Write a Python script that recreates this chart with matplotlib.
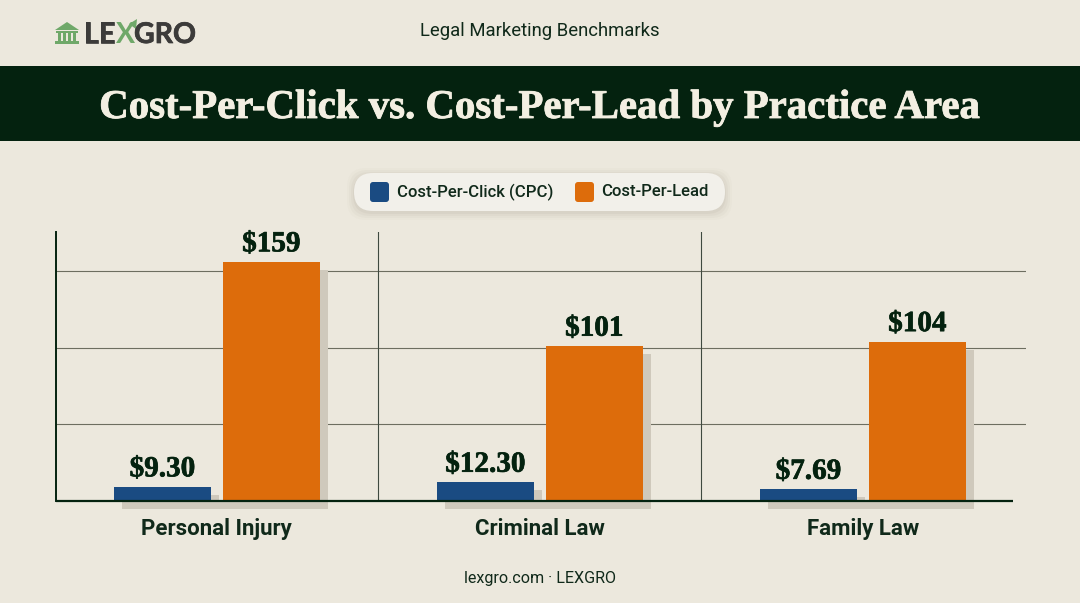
import matplotlib
matplotlib.use("Agg")
import matplotlib.pyplot as plt
import matplotlib.patheffects as pe
from matplotlib.patches import FancyBboxPatch, Rectangle, Polygon
import numpy as np

categories = ["Personal Injury", "Criminal Law", "Family Law"]
cpc_values = [9.30, 12.30, 7.69]
# the first orange bar is drawn shorter than its $159 label says, heights are as drawn
cpl_values = [156, 101, 104]
cpc_labels = ["$9.30", "$12.30", "$7.69"]
cpl_labels = ["$159", "$101", "$104"]
grid_values = [50, 100, 150]

BG = "#ece8dd"
DARK = "#04220f"
INK = "#10291a"
BLUE = "#1a4b82"
ORANGE = "#dd6c0b"
SHADOW = "#cfc9bc"
GREEN = "#6fa869"
SERIF = "Liberation Serif"
SANS = "Roboto"

fig = plt.figure(figsize=(10.8, 6.03), dpi=100, facecolor=BG)

# page furniture, in pixel coordinates
deco = fig.add_axes([0, 0, 1, 1], zorder=0)
deco.set_xlim(0, 1080)
deco.set_ylim(603, 0)
deco.axis("off")

deco.add_patch(Rectangle((0, 66), 1080, 75, fc=DARK, ec="none"))
title = deco.text(540, 104, "Cost-Per-Click vs. Cost-Per-Lead by Practice Area", family=SERIF,
                  weight="bold", fontsize=29.4, color="#f3efe2", ha="center", va="center_baseline")
title.set_path_effects([pe.withStroke(linewidth=0.6, foreground="#f3efe2")])
deco.text(540, 31, "Legal Marketing Benchmarks", family=SANS, fontsize=13.3, color=INK,
          ha="center", va="center")
deco.text(540, 578, "lexgro.com · LEXGRO", family=SANS, fontsize=11.6, color=INK,
          ha="center", va="center")

# logo
deco.add_patch(Polygon([(55, 30), (67, 22), (79, 30)], fc=GREEN, ec="none"))
deco.add_patch(Rectangle((56, 31), 22, 2, fc=GREEN, ec="none"))
deco.add_patch(Rectangle((55, 41), 24, 3, fc=GREEN, ec="none"))
for cx in [58, 63, 68, 73]:
    deco.add_patch(Rectangle((cx, 33), 3, 8, fc=GREEN, ec="none"))
logo_stroke = [pe.withStroke(linewidth=0.5, foreground="#3c3b3a")]
deco.text(84, 43, "LE", family="Lato", weight="bold", fontsize=20.5, color="#3c3b3a",
          va="baseline", path_effects=logo_stroke)
deco.text(116, 43, "X", family="Lato", weight="bold", fontsize=20.5, color=GREEN, va="baseline")
deco.text(134, 43, "GRO", family="Lato", weight="bold", fontsize=20.5, color="#3c3b3a",
          va="baseline", path_effects=logo_stroke)
deco.add_patch(Polygon([(129, 24), (137, 19), (136, 29)], fc=GREEN, ec="none"))

# legend pill
for grow, a in [(7, 0.03), (5, 0.05), (3, 0.06), (1, 0.08)]:
    deco.add_patch(FancyBboxPatch((354 - grow, 175 - grow), 371 + 2 * grow, 38 + 2 * grow,
                                  boxstyle="round,pad=0,rounding_size=19",
                                  fc="#8f8a7c", ec="none", alpha=a))
deco.add_patch(FancyBboxPatch((354, 173), 371, 38, boxstyle="round,pad=0,rounding_size=19",
                              fc="#f2f0ea", ec="none"))
deco.add_patch(FancyBboxPatch((370, 182), 19, 20, boxstyle="round,pad=0,rounding_size=3",
                              fc=BLUE, ec="none"))
deco.add_patch(FancyBboxPatch((575, 182), 19, 20, boxstyle="round,pad=0,rounding_size=3",
                              fc=ORANGE, ec="none"))
deco.text(397, 192, "Cost-Per-Click (CPC)", family=SANS, weight="medium", fontsize=12,
          color=INK, va="center")
deco.text(601, 192, "Cost-Per-Lead", family=SANS, weight="medium", fontsize=12,
          color=INK, va="center")

# shadow strip under each group, below the baseline
for left in [122, 445, 768]:
    deco.add_patch(Rectangle((left, 501), 206, 8, fc=SHADOW, ec="none"))

# chart
ax = fig.add_axes([56 / 1080, 1 - 501 / 603, (1026 - 56) / 1080, (501 - 232) / 603], zorder=1)
ax.patch.set_alpha(0)
ax.set_xlim(-0.498, 2.505)
ax.set_ylim(0, 175.4)

x = np.arange(len(categories))
width = 0.3
offset = 0.1687
shadow = [pe.SimplePatchShadow(offset=(5.8, -5.8), shadow_rgbFace=SHADOW, alpha=1, rho=1), pe.Normal()]

for v in grid_values:
    ax.axhline(v, color="#6d6e60", lw=0.8, zorder=1)
for v in x[:-1] + 0.5:
    ax.axvline(v, color="#3f4a40", lw=0.8, zorder=1)

cpl_bars = ax.bar(x + offset, cpl_values, width, color=ORANGE, zorder=2)
cpc_bars = ax.bar(x - offset, cpc_values, width, color=BLUE, zorder=2.5)
for b in list(cpl_bars) + list(cpc_bars):
    b.set_clip_on(False)
    b.set_path_effects(shadow)

for bars, labels in [(cpc_bars, cpc_labels), (cpl_bars, cpl_labels)]:
    for b, lab in zip(bars, labels):
        ax.annotate(lab, (b.get_x() + b.get_width() / 2, b.get_height()), xytext=(0, 7.5),
                    textcoords="offset points", ha="center", va="baseline", family=SERIF,
                    weight="bold", fontsize=21, color=DARK, zorder=4,
                    path_effects=[pe.withStroke(linewidth=0.5, foreground=DARK)])

ax.plot([-0.498, 2.464], [0, 0], color=DARK, lw=1.6, clip_on=False, zorder=3, solid_capstyle="butt")

for s in ["top", "right", "bottom"]:
    ax.spines[s].set_visible(False)
ax.spines["left"].set_color(DARK)
ax.spines["left"].set_linewidth(1.4)
ax.set_yticks([])
ax.set_xticks(x)
ax.set_xticklabels(categories, family=SANS, weight="bold", fontsize=16, color=INK)
ax.tick_params(axis="x", length=0, pad=12)

fig.savefig("out.png", dpi=100, facecolor=BG)
